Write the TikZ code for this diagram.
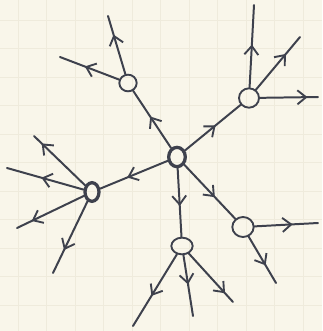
\documentclass[tikz,border=0pt]{standalone}
\usepackage{tikz}
\usetikzlibrary{arrows.meta,shapes.geometric,decorations.markings}
\definecolor{paper}{HTML}{F9F6EA}
\definecolor{gridln}{HTML}{EFEBDC}
\definecolor{ink}{HTML}{3E414D}

\begin{document}
\begin{tikzpicture}[
  x=0.03cm,y=-0.03cm,
  knot/.style={draw=ink,ellipse,inner sep=0pt,line width=1.6pt},
  hub/.style={knot,line width=2.8pt},
  edge/.style={draw=ink,line width=1.7pt,line cap=round},
  midarrow/.style={postaction={decorate,decoration={markings,
     mark=at position #1 with {\arrow[ink,line width=1.6pt]{Straight Barb[length=2.6mm,width=4.2mm]}}}}}]
% paper
\fill[paper] (0,0) rectangle (322,331);
\useasboundingbox (0,0) rectangle (322,331);
\foreach \k in {0,...,10} {
  \draw[gridln,line width=0.4pt] (18+28.5*\k,0) -- (18+28.5*\k,331);
  \draw[gridln,line width=0.4pt] (0,20+28.5*\k) -- (322,20+28.5*\k);
}
% nodes
\node[hub,minimum width=0.5cm,minimum height=0.58cm] (c) at (177,157) {};
\node[knot,minimum width=0.52cm,minimum height=0.5cm] (a) at (128,83) {};
\node[knot,minimum width=0.6cm,minimum height=0.58cm] (b) at (249,98) {};
\node[hub,minimum width=0.42cm,minimum height=0.56cm] (d) at (92,192) {};
\node[knot,minimum width=0.64cm,minimum height=0.5cm] (e) at (182,246) {};
\node[knot,minimum width=0.64cm,minimum height=0.6cm] (f) at (243,227) {};
% free ends
\coordinate (a1) at (108,16);
\coordinate (a2) at (60,57);
\coordinate (b1) at (254,5);
\coordinate (b2) at (300,37);
\coordinate (b3) at (318,97);
\coordinate (d1) at (34,136);
\coordinate (d2) at (7,168);
\coordinate (d3) at (17,228);
\coordinate (d4) at (53,273);
\coordinate (e1) at (133,326);
\coordinate (e2) at (193,316);
\coordinate (e3) at (233,302);
\coordinate (f1) at (318,223);
\coordinate (f2) at (276,283);
% from the hub
\draw[edge,midarrow=0.55] (c) -- (a);
\draw[edge,midarrow=0.55] (c) -- (b);
\draw[edge,midarrow=0.6] (c) -- (d);
\draw[edge,midarrow=0.55] (c) -- (e);
\draw[edge,midarrow=0.6] (c) -- (f);
% leaves
\draw[edge,midarrow=0.68] (a) -- (a1);
\draw[edge,midarrow=0.58] (a) -- (a2);
\draw[edge,midarrow=0.52] (b) -- (b1);
\draw[edge,midarrow=0.68] (b) -- (b2);
\draw[edge,midarrow=0.82] (b) -- (b3);
\draw[edge,midarrow=0.85] (d) -- (d1);
\draw[edge,midarrow=0.55] (d) -- (d2);
\draw[edge,midarrow=0.78] (d) -- (d3);
\draw[edge,midarrow=0.68] (d) -- (d4);
\draw[edge,midarrow=0.58] (e) -- (e1);
\draw[edge,midarrow=0.48] (e) -- (e2);
\draw[edge,midarrow=0.82] (e) -- (e3);
\draw[edge,midarrow=0.6] (f) -- (f1);
\draw[edge,midarrow=0.62] (f) -- (f2);
\end{tikzpicture}
\end{document}
